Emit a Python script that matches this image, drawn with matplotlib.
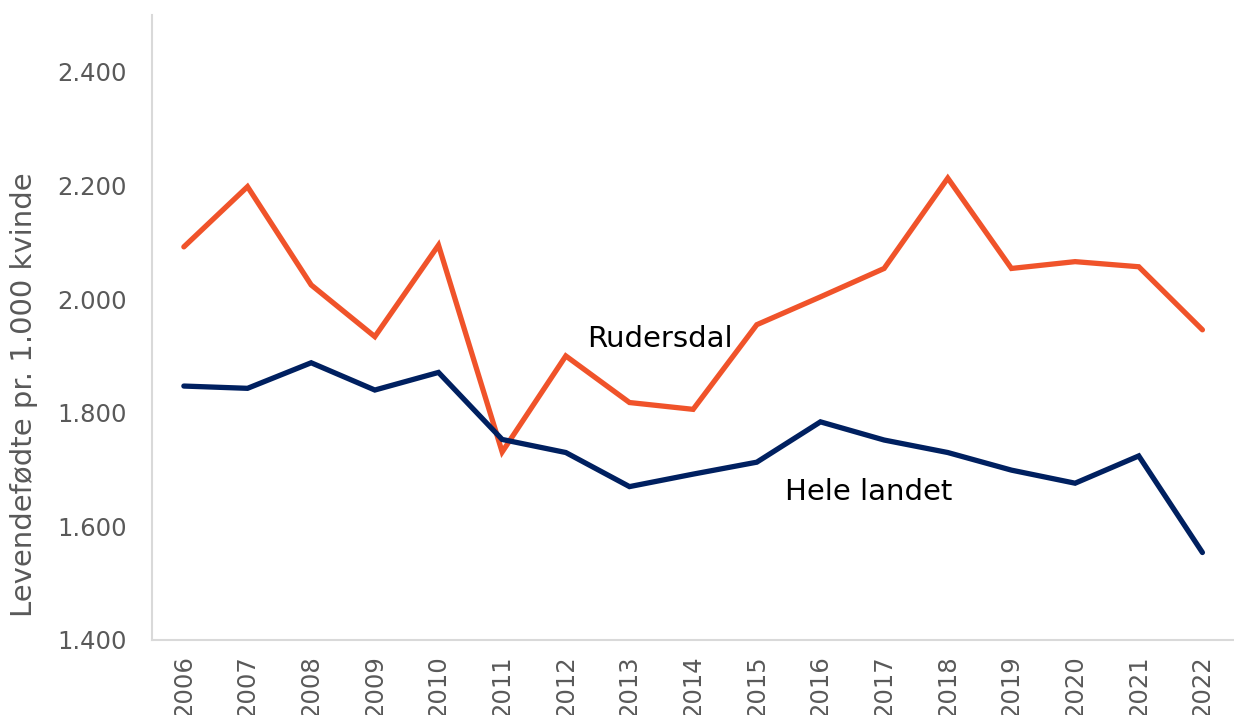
import numpy as np
import matplotlib.pyplot as plt
from matplotlib.ticker import FuncFormatter

# Data
years = [str(y) for y in range(2006, 2023)]
rudersdal = [2092, 2198, 2025, 1934, 2095, 1731, 1900, 1818, 1806, 1955,
             2004, 2054, 2213, 2054, 2066, 2057, 1946]
hele_landet = [1847, 1843, 1888, 1840, 1871, 1753, 1730, 1670, 1692, 1713,
               1784, 1752, 1730, 1699, 1676, 1724, 1554]

orange = '#F0532A'
navy = '#002060'
grey = '#595959'

plt.rcParams['font.family'] = 'DejaVu Sans'

fig = plt.figure(figsize=(12.34, 7.15), dpi=100)
ax = fig.add_axes([0.1232, 0.1049, 0.877, 0.874])

x = np.arange(len(years))
ax.plot(x, rudersdal, color=orange, linewidth=3.8, solid_capstyle='round', solid_joinstyle='miter')
ax.plot(x, hele_landet, color=navy, linewidth=3.8, solid_capstyle='round', solid_joinstyle='miter')

ax.set_xlim(-0.5, len(years) - 0.5)
ax.set_ylim(1400, 2500)
ax.set_yticks(np.arange(1400, 2401, 200))
ax.yaxis.set_major_formatter(FuncFormatter(lambda v, p: f'{v/1000:.3f}'))
ax.set_xticks(x)
ax.set_xticklabels(years, rotation=90)

for s in ['top', 'right']:
    ax.spines[s].set_visible(False)
for s in ['left', 'bottom']:
    ax.spines[s].set_color('#d9d9d9')
    ax.spines[s].set_linewidth(1.5)

ax.tick_params(axis='both', length=0, colors=grey, labelsize=17.5)
ax.tick_params(axis='y', pad=18)
ax.tick_params(axis='x', pad=11)

ax.set_ylabel('Levendefødte pr. 1.000 kvinde', fontsize=21, color=grey)
ax.yaxis.set_label_coords(-0.105, 0.392)

ax.text(6.33, 1930, 'Rudersdal', fontsize=21, color='black', ha='left', va='center')
ax.text(9.45, 1660, 'Hele landet', fontsize=21, color='black', ha='left', va='center')

plt.savefig('out.png', dpi=100)
